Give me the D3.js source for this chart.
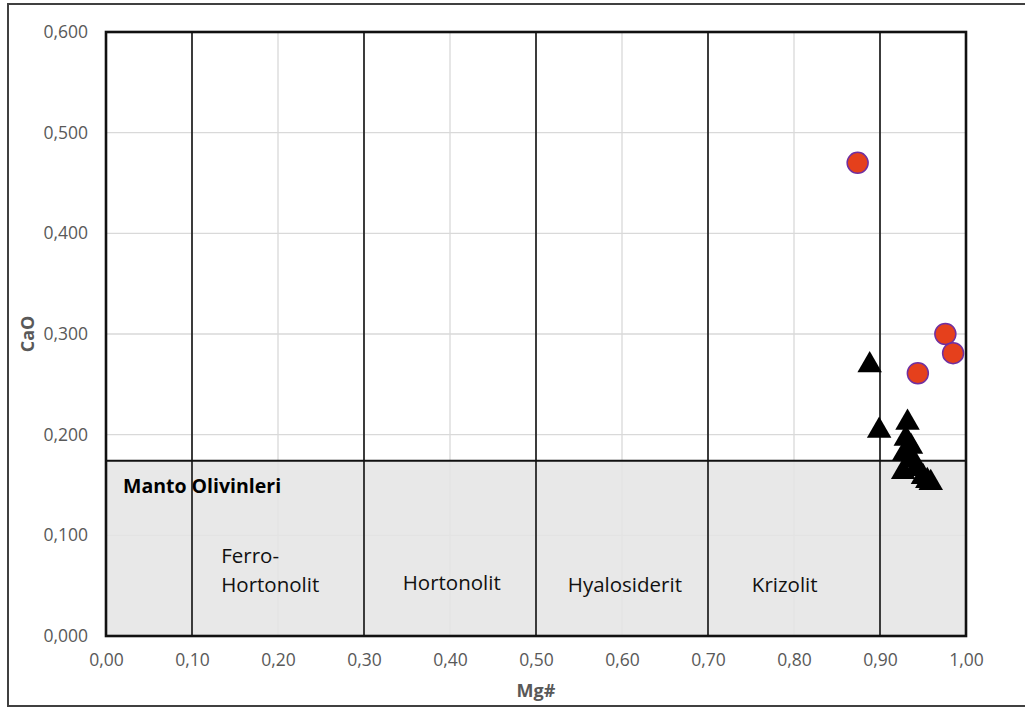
<!DOCTYPE html>
<html>
<head>
<meta charset="utf-8">
<script src="https://cdn.jsdelivr.net/npm/d3@7"></script>
<style>
  html, body { margin: 0; padding: 0; background: #fff; }
  svg { display: block; font-family: "Open Sans", sans-serif; }
</style>
</head>
<body>
<svg id="chart" width="1025" height="709"></svg>
<script>
// Olivine classification: CaO vs Mg#
const xTicks = [0, 0.1, 0.2, 0.3, 0.4, 0.5, 0.6, 0.7, 0.8, 0.9, 1.0];
const yTicks = [0, 0.1, 0.2, 0.3, 0.4, 0.5, 0.6];

// Field boundaries (Mg#) and mantle-olivine CaO limit
const fieldBoundaries = [0.1, 0.3, 0.5, 0.7, 0.9];
const mantleCaOLimit = 0.174;

// Field names with label anchor (Mg#, CaO)
const fieldNames = [
  { lines: ["Ferro-", "Hortonolit"], x: 0.134, y: 0.0725 },
  { lines: ["Hortonolit"], x: 0.345, y: 0.0457 },
  { lines: ["Hyalosiderit"], x: 0.537, y: 0.0437 },
  { lines: ["Krizolit"], x: 0.751, y: 0.0437 }
];

// Samples: circles
const circleMg = [0.874, 0.976, 0.985, 0.944];
const circleCaO = [0.470, 0.300, 0.281, 0.261];

// Samples: triangles
const triMg = [0.888, 0.899, 0.932, 0.930, 0.936, 0.928, 0.938, 0.927, 0.942, 0.950, 0.955, 0.959];
const triCaO = [0.269, 0.204, 0.212, 0.196, 0.188, 0.181, 0.175, 0.163, 0.166, 0.158, 0.154, 0.152];

const svg = d3.select("#chart");
const plot = { left: 106, right: 966, top: 32, bottom: 636 };

const x = d3.scaleLinear().domain([0, 1]).range([plot.left, plot.right]);
const y = d3.scaleLinear().domain([0, 0.6]).range([plot.bottom, plot.top]);

const fmt2 = d => d3.format(".2f")(d).replace(".", ",");
const fmt3 = d => d3.format(".3f")(d).replace(".", ",");

// outer frame
svg.append("rect")
  .attr("x", 8).attr("y", 4).attr("width", 1040).attr("height", 702)
  .attr("fill", "#fff").attr("stroke", "#404040").attr("stroke-width", 2);

// gridlines
const grid = svg.append("g");
grid.selectAll("line.gx").data(xTicks).join("line")
  .attr("x1", d => x(d)).attr("x2", d => x(d))
  .attr("y1", plot.top).attr("y2", plot.bottom)
  .attr("stroke", "#d9d9d9").attr("stroke-width", 1.3);
grid.selectAll("line.gy").data(yTicks).join("line")
  .attr("x1", plot.left).attr("x2", plot.right)
  .attr("y1", d => y(d)).attr("y2", d => y(d))
  .attr("stroke", "#d9d9d9").attr("stroke-width", 1.3);

// mantle olivine field (shaded)
svg.append("rect")
  .attr("x", x(0)).attr("y", y(mantleCaOLimit))
  .attr("width", x(1) - x(0)).attr("height", y(0) - y(mantleCaOLimit))
  .attr("fill", "#e4e4e4").attr("fill-opacity", 0.85);

// field boundaries
svg.selectAll("line.fb").data(fieldBoundaries).join("line")
  .attr("x1", d => x(d)).attr("x2", d => x(d))
  .attr("y1", y(0.6)).attr("y2", y(0))
  .attr("stroke", "#111").attr("stroke-width", 1.6);

svg.append("line")
  .attr("x1", x(0)).attr("x2", x(1))
  .attr("y1", y(mantleCaOLimit)).attr("y2", y(mantleCaOLimit))
  .attr("stroke", "#111").attr("stroke-width", 2);

// plot border
svg.append("rect")
  .attr("x", x(0)).attr("y", y(0.6))
  .attr("width", x(1) - x(0)).attr("height", y(0) - y(0.6))
  .attr("fill", "none").attr("stroke", "#111").attr("stroke-width", 2.6);

// axes (labels only)
const xAxis = d3.axisBottom(x).tickValues(xTicks).tickFormat(fmt2).tickSize(0).tickPadding(18);
const yAxis = d3.axisLeft(y).tickValues(yTicks).tickFormat(fmt3).tickSize(0).tickPadding(18);

const gx = svg.append("g").attr("transform", `translate(0,${plot.bottom})`).call(xAxis);
const gy = svg.append("g").attr("transform", `translate(${plot.left},0)`).call(yAxis);
[gx, gy].forEach(g => {
  g.select(".domain").remove();
  g.attr("font-size", 17.5).attr("font-family", "'Open Sans', sans-serif");
  g.selectAll("text").attr("fill", "#595959");
});

// axis titles
svg.append("text").attr("x", x(0.5)).attr("y", 697)
  .attr("text-anchor", "middle").attr("font-size", 18).attr("font-weight", "bold")
  .attr("fill", "#595959").text("Mg#");
svg.append("text")
  .attr("transform", `translate(34,${y(0.3)}) rotate(-90)`)
  .attr("text-anchor", "middle").attr("font-size", 18).attr("font-weight", "bold")
  .attr("fill", "#595959").text("CaO");

// field names
svg.append("text").attr("x", 123).attr("y", y(0.142))
  .attr("font-size", 19.5).attr("font-weight", "bold").attr("fill", "#000")
  .text("Manto Olivinleri");

fieldNames.forEach(f => {
  const t = svg.append("text").attr("x", x(f.x)).attr("y", y(f.y))
    .attr("font-size", 20.5).attr("fill", "#111");
  f.lines.forEach((ln, i) => {
    t.append("tspan").attr("x", x(f.x)).attr("dy", i === 0 ? 0 : 29).text(ln);
  });
});

// triangles
const tri = d3.symbol().type(d3.symbolTriangle).size(260);
svg.selectAll("path.tri").data(triMg.map((m, i) => [m, triCaO[i]])).join("path")
  .attr("d", tri)
  .attr("transform", d => `translate(${x(d[0])},${y(d[1])})`)
  .attr("fill", "#000");

// circles
svg.selectAll("circle.s").data(circleMg.map((m, i) => [m, circleCaO[i]])).join("circle")
  .attr("cx", d => x(d[0])).attr("cy", d => y(d[1])).attr("r", 10.5)
  .attr("fill", "#e5401c").attr("stroke", "#7030a0").attr("stroke-width", 1.5);
</script>
</body>
</html>
